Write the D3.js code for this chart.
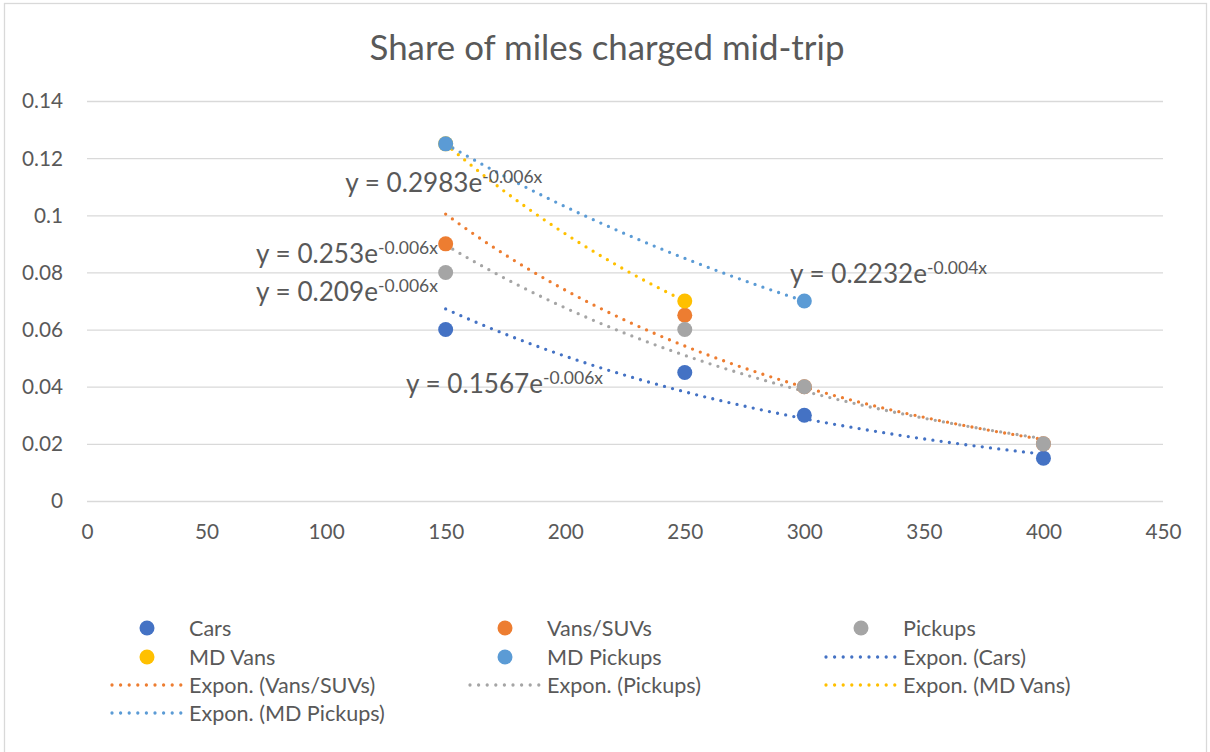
<!DOCTYPE html>
<html><head><meta charset="utf-8">
<script src="https://cdn.jsdelivr.net/npm/d3@7"></script>
<style>
body{margin:0;background:#fff}
svg{display:block}
text{font-family:Lato,'Open Sans',sans-serif;fill:#595959}
</style>
</head><body>
<svg id="chart" width="1210" height="752"></svg>
<script>
// ---------- data ----------
const titleText = "Share of miles charged mid-trip";
const seriesNames = ["Cars", "Vans/SUVs", "Pickups", "MD Vans", "MD Pickups"];
const carsMiles = [150, 250, 300, 400];
const carsShare = [0.06, 0.045, 0.03, 0.015];
const vansMiles = [150, 250, 300, 400];
const vansShare = [0.09, 0.065, 0.04, 0.02];
const pickupsMiles = [150, 250, 300, 400];
const pickupsShare = [0.08, 0.06, 0.04, 0.02];
const mdVansMiles = [150, 250];
const mdVansShare = [0.125, 0.07];
const mdPickupsMiles = [150, 300];
const mdPickupsShare = [0.125, 0.07];
const xTickValues = [0, 50, 100, 150, 200, 250, 300, 350, 400, 450];
const xTickLabels = ["0", "50", "100", "150", "200", "250", "300", "350", "400", "450"];
const yTickValues = [0, 0.02, 0.04, 0.06, 0.08, 0.10, 0.12, 0.14];
const yTickLabels = ["0", "0.02", "0.04", "0.06", "0.08", "0.1", "0.12", "0.14"];

// ---------- styles / layout ----------
const colors = ["#4472C4", "#ED7D31", "#A5A5A5", "#FFC000", "#5B9BD5"];
const seriesMiles = [carsMiles, vansMiles, pickupsMiles, mdVansMiles, mdPickupsMiles];
const seriesShare = [carsShare, vansShare, pickupsShare, mdVansShare, mdPickupsShare];
const series = seriesNames.map((n, i) => ({
  name: n, color: colors[i],
  pts: seriesMiles[i].map((m, j) => ({x: m, y: seriesShare[i][j]}))
}));

const svg = d3.select("#chart");
const textColor = "#595959", gridColor = "#D9D9D9";

function fitSize(str, target) {
  const t = svg.append("text").attr("font-size", 20).text(str);
  const w = t.node().getComputedTextLength();
  t.remove();
  return 20 * target / w;
}
const fsTick = fitSize("0.14", 41);
const fsTitle = fitSize(titleText, 475);
const fsEq = fitSize("y = 0.253e", 122);
const fsSup = fitSize("-0.006x", 60);
const fsLegend = fitSize("Expon. (MD Pickups)", 196);

// chart border
svg.append("rect").attr("x", 4.5).attr("y", 3.5).attr("width", 1202).attr("height", 780)
  .attr("fill", "#fff").attr("stroke", gridColor).attr("stroke-width", 1.3);

const x = d3.scaleLinear().domain([0, 450]).range([87, 1163]);
const y = d3.scaleLinear().domain([0, 0.14]).range([501, 101]);

// title
svg.append("text").attr("x", 607).attr("y", 60).attr("text-anchor", "middle")
  .attr("font-size", fsTitle).text(titleText);

// y axis with gridlines
const gy = svg.append("g").attr("transform", `translate(${x(0)},0)`)
  .call(d3.axisLeft(y).tickValues(yTickValues).tickSize(-(x(450) - x(0)))
    .tickPadding(24).tickFormat((d, i) => yTickLabels[i]));
gy.select(".domain").remove();
gy.selectAll("line").attr("stroke", gridColor).attr("stroke-width", 1.3);
gy.selectAll("text").attr("fill", textColor).attr("font-size", fsTick)
  .attr("font-family", "Lato,'Open Sans',sans-serif").attr("dy", "0.33em");

// x axis labels
const gx = svg.append("g").attr("transform", `translate(0,${y(0)})`)
  .call(d3.axisBottom(x).tickValues(xTickValues).tickSize(0)
    .tickFormat((d, i) => xTickLabels[i]));
gx.select(".domain").remove();
gx.selectAll("text").attr("fill", textColor).attr("font-size", fsTick)
  .attr("font-family", "Lato,'Open Sans',sans-serif").attr("y", 38).attr("dy", 0);

// exponential fits (least squares on ln y)
function expFit(pts) {
  const mx = d3.mean(pts, p => p.x);
  const my = d3.mean(pts, p => Math.log(p.y));
  let sxy = 0, sxx = 0;
  pts.forEach(p => { sxy += (p.x - mx) * (Math.log(p.y) - my); sxx += (p.x - mx) ** 2; });
  const b = sxy / sxx;
  const a = Math.exp(my - b * mx);
  return {a, b};
}
series.forEach(s => { s.fit = expFit(s.pts); });

const lineGen = d3.line().x(d => x(d.x)).y(d => y(d.y));
const dotDash = "0 8.3";
series.forEach(s => {
  const x0 = d3.min(s.pts, p => p.x), x1 = d3.max(s.pts, p => p.x);
  const samples = d3.range(0, 101).map(k => {
    const xv = x0 + (x1 - x0) * k / 100;
    return {x: xv, y: s.fit.a * Math.exp(s.fit.b * xv)};
  });
  svg.append("path").datum(samples).attr("d", lineGen)
    .attr("fill", "none").attr("stroke", s.color).attr("stroke-width", 3.3)
    .attr("stroke-linecap", "round").attr("stroke-dasharray", dotDash);
});

// markers
series.forEach(s => {
  svg.append("g").selectAll("circle").data(s.pts).join("circle")
    .attr("cx", d => x(d.x)).attr("cy", d => y(d.y)).attr("r", 7.5)
    .attr("fill", s.color);
});

// equation labels (anchor in data units: left x, baseline y)
const eqAnchors = [
  {x: 133.4, y: 0.0377},   // Cars
  {x: 70.7, y: 0.0834},    // Vans/SUVs
  {x: 70.7, y: 0.0699},    // Pickups
  {x: 108.0, y: 0.1080},   // MD Vans
  {x: 294.0, y: 0.0762}    // MD Pickups
];
function fmtCoef(v) { return String(parseFloat(v.toFixed(4))); }
series.forEach((s, i) => {
  const t = svg.append("text").attr("x", x(eqAnchors[i].x)).attr("y", y(eqAnchors[i].y))
    .attr("font-size", fsEq);
  t.append("tspan").text("y = " + fmtCoef(s.fit.a) + "e");
  t.append("tspan").attr("font-size", fsSup).attr("dy", -9).text(s.fit.b.toFixed(3) + "x");
});

// legend
const legendItems = series.map(s => ({label: s.name, color: s.color, type: "marker"}))
  .concat(series.map(s => ({label: "Expon. (" + s.name + ")", color: s.color, type: "line"})));
const colTextX = [189, 547, 903];
const rowY = [628, 657, 685, 713];
legendItems.forEach((it, i) => {
  const c = i % 3, r = Math.floor(i / 3);
  const tx = colTextX[c], cy = rowY[r];
  if (it.type === "marker") {
    svg.append("circle").attr("cx", tx - 42).attr("cy", cy).attr("r", 7.5).attr("fill", it.color);
  } else {
    svg.append("line").attr("x1", tx - 77).attr("x2", tx - 8).attr("y1", cy).attr("y2", cy)
      .attr("stroke", it.color).attr("stroke-width", 3.3).attr("stroke-linecap", "round")
      .attr("stroke-dasharray", "0 8.6");
  }
  svg.append("text").attr("x", tx).attr("y", cy + 7.5).attr("font-size", fsLegend).text(it.label);
});
</script>
</body></html>
